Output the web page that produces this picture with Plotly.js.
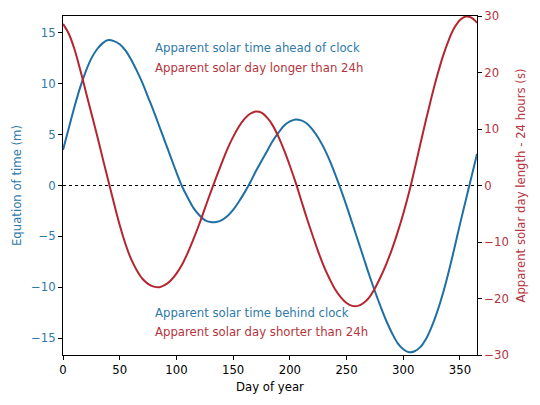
<!DOCTYPE html>
<html>
<head>
<meta charset="utf-8">
<script src="https://cdn.plot.ly/plotly-3.0.1.min.js"></script>
<style>html,body{margin:0;padding:0;background:#fff;}#chart{width:540px;height:405px;}</style>
</head>
<body>
<div id="chart"></div>
<script>
// Day of year
const days = [0,5,10,15,20,25,30,35,40,45,50,55,60,65,70,75,80,85,90,95,100,105,110,115,120,125,130,135,140,145,150,155,160,165,170,175,180,185,190,195,200,205,210,215,220,225,230,235,240,245,250,255,260,265,270,275,280,285,290,295,300,305,310,315,320,325,330,335,340,345,350,355,360,365];
// Equation of time (minutes), left axis
const eqTime = [3.5,5.6,7.7,9.6,11.2,12.5,13.4,14.0,14.3,14.2,13.9,13.3,12.4,11.3,10.1,8.7,7.3,5.8,4.3,2.8,1.3,-0.1,-1.2,-2.2,-2.9,-3.4,-3.6,-3.6,-3.4,-3.0,-2.4,-1.6,-0.7,0.3,1.4,2.4,3.4,4.4,5.2,5.9,6.3,6.5,6.4,6.1,5.5,4.7,3.7,2.5,1.1,-0.4,-2.0,-3.7,-5.4,-7.1,-8.8,-10.4,-11.9,-13.3,-14.5,-15.5,-16.1,-16.4,-16.3,-15.9,-15.1,-13.9,-12.4,-10.6,-8.5,-6.2,-3.8,-1.5,0.8,3.1];
// Apparent solar day length - 24 h (seconds), right axis
const dayLen = [28.6,26.9,24.2,20.6,16.7,12.8,8.9,4.8,0.8,-3.2,-7.0,-10.3,-13.0,-15.0,-16.5,-17.4,-17.9,-18.0,-17.6,-16.8,-15.6,-14.0,-11.9,-9.5,-6.9,-4.1,-1.3,1.4,4.0,6.5,8.6,10.4,11.8,12.7,13.1,12.9,12.0,10.6,8.6,6.2,3.5,0.6,-2.6,-5.8,-8.8,-11.7,-14.3,-16.5,-18.4,-19.8,-20.8,-21.3,-21.3,-20.8,-19.8,-18.2,-16.2,-13.9,-11.3,-8.3,-5.0,-1.3,2.9,7.3,11.6,15.7,19.5,22.9,25.7,27.9,29.3,29.9,29.7,28.8];

const xTicks = [0,50,100,150,200,250,300,350];
const leftTicks = [-15,-10,-5,0,5,10,15];
const rightTicks = [-30,-20,-10,0,10,20,30];
const leftTickText = leftTicks.map(v => v < 0 ? '\u2212' + Math.abs(v) : String(v));
const rightTickText = rightTicks.map(v => v < 0 ? '\u2212' + Math.abs(v) : String(v));

const labelsTop = ['Apparent solar time ahead of clock', 'Apparent solar day longer than 24h'];
const labelsBottom = ['Apparent solar time behind clock', 'Apparent solar day shorter than 24h'];

const blue = '#1f6fa3';
const red = '#b5252f';
const blueText = '#2f7aa8';
const redText = '#b5343e';
const font = 'DejaVu Sans, sans-serif';
const fs = 11.7;

const traces = [
  {x: days, y: eqTime, type: 'scatter', mode: 'lines', line: {color: blue, width: 2, shape: 'spline', smoothing: 1}, yaxis: 'y', hoverinfo: 'skip'},
  {x: days, y: dayLen, type: 'scatter', mode: 'lines', line: {color: red, width: 2, shape: 'spline', smoothing: 1}, yaxis: 'y2', hoverinfo: 'skip'}
];

const layout = {
  width: 540, height: 405,
  margin: {l: 63, r: 63, t: 16, b: 50},
  paper_bgcolor: '#fff', plot_bgcolor: '#fff',
  showlegend: false,
  font: {family: font, size: fs, color: '#000'},
  xaxis: {
    range: [0, 365], tickvals: xTicks, ticktext: xTicks.map(String),
    showgrid: false, zeroline: false, showline: true, mirror: true, linecolor: '#000', linewidth: 1,
    ticks: 'outside', ticklen: 4, tickcolor: '#000',
    tickfont: {family: font, size: fs, color: '#000'},
    title: {text: 'Day of year', font: {family: font, size: fs, color: '#000'}, standoff: 6}
  },
  yaxis: {
    range: [-16.67, 16.67], tickvals: leftTicks, ticktext: leftTickText,
    showgrid: false, zeroline: false, showline: true, linecolor: '#000', linewidth: 1,
    ticks: 'outside', ticklen: 4, tickcolor: '#000',
    tickfont: {family: font, size: fs, color: blueText},
    title: {text: 'Equation of time (m)', font: {family: font, size: fs, color: blueText}, standoff: 6}
  },
  yaxis2: {
    range: [-30, 30], tickvals: rightTicks, ticktext: rightTickText,
    overlaying: 'y', side: 'right',
    showgrid: false, zeroline: false, showline: true, linecolor: '#000', linewidth: 1,
    ticks: 'outside', ticklen: 4, tickcolor: '#000',
    tickfont: {family: font, size: fs, color: redText},
    title: {text: 'Apparent solar day length - 24 hours (s)', font: {family: font, size: fs, color: redText}, standoff: 8}
  },
  shapes: [
    {type: 'line', xref: 'paper', x0: 0, x1: 1, yref: 'y', y0: 0, y1: 0, line: {color: '#000', width: 1, dash: 'dot'}, layer: 'below'}
  ],
  annotations: [
    {x: 79.5, y: 13.5, xref: 'x', yref: 'y', text: labelsTop[0], showarrow: false, xanchor: 'left', yanchor: 'middle', font: {family: font, size: fs, color: blueText}},
    {x: 79.5, y: 11.55, xref: 'x', yref: 'y', text: labelsTop[1], showarrow: false, xanchor: 'left', yanchor: 'middle', font: {family: font, size: fs, color: redText}},
    {x: 79.5, y: -12.5, xref: 'x', yref: 'y', text: labelsBottom[0], showarrow: false, xanchor: 'left', yanchor: 'middle', font: {family: font, size: fs, color: blueText}},
    {x: 79.5, y: -14.45, xref: 'x', yref: 'y', text: labelsBottom[1], showarrow: false, xanchor: 'left', yanchor: 'middle', font: {family: font, size: fs, color: redText}}
  ]
};

Plotly.newPlot('chart', traces, layout, {staticPlot: true, displayModeBar: false});
</script>
</body>
</html>
